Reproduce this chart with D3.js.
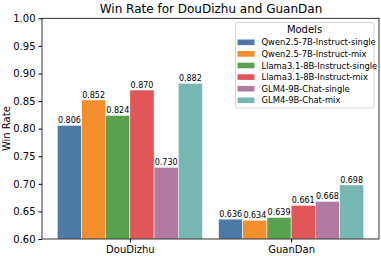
<!DOCTYPE html>
<html>
<head>
<script src="https://d3js.org/d3.v7.min.js"></script>
<style>
  body { margin: 0; background: #fff; }
  text { font-family: "DejaVu Sans", sans-serif; fill: #000; }
</style>
</head>
<body>
<svg width="381" height="256"></svg>
<script>
var games = ["DouDizhu", "GuanDan"];
var models = ["Qwen2.5-7B-Instruct-single", "Qwen2.5-7B-Instruct-mix",
  "Llama3.1-8B-Instruct-single", "Llama3.1-8B-Instruct-mix",
  "GLM4-9B-Chat-single", "GLM4-9B-Chat-mix"];
var douDizhu = [0.806, 0.852, 0.824, 0.870, 0.730, 0.882];
var guanDan = [0.636, 0.634, 0.639, 0.661, 0.668, 0.698];
var yTicks = [0.60, 0.65, 0.70, 0.75, 0.80, 0.85, 0.90, 0.95, 1.00];
var colors = ["#4e79a7", "#f28e2b", "#59a14f", "#e15759", "#b07aa1", "#76b7b2"];

var values = [douDizhu, guanDan];
var svg = d3.select("svg");
var plotLeft = 42, plotRight = 379, plotTop = 18.3, plotBottom = 239;
var barW = 0.15;

var x = d3.scaleLinear().domain([-0.545, 1.545]).range([plotLeft, plotRight]);
var y = d3.scaleLinear().domain([0.6, 1.0]).range([plotBottom, plotTop]);

// bars
games.forEach(function(g, gi) {
  var grp = svg.append("g");
  grp.selectAll("rect")
    .data(values[gi])
    .enter()
    .append("rect")
    .attr("x", function(d, i) { return x(gi + (i - 2.5) * barW - barW / 2); })
    .attr("width", x(barW) - x(0))
    .attr("y", function(d) { return y(d); })
    .attr("height", function(d) { return y(0.6) - y(d); })
    .attr("fill", function(d, i) { return colors[i]; })
    .attr("stroke", "#fff")
    .attr("stroke-width", 0.5);
  grp.selectAll("text")
    .data(values[gi])
    .enter()
    .append("text")
    .attr("x", function(d, i) { return x(gi + (i - 2.5) * barW); })
    .attr("y", function(d) { return y(d) - 2; })
    .attr("text-anchor", "middle")
    .attr("font-size", "8px")
    .text(function(d) { return d.toFixed(3); });
});

// axes
var yAxis = d3.axisLeft(y).tickValues(yTicks).tickFormat(d3.format(".2f")).tickSize(3.5).tickPadding(3);
var gy = svg.append("g").attr("transform", "translate(" + plotLeft + ",0)").call(yAxis);
gy.selectAll("text").attr("font-size", "10px").attr("font-family", "DejaVu Sans");
gy.select(".domain").remove();

var xAxis = d3.axisBottom(x).tickValues([0, 1]).tickFormat(function(d) { return games[d]; }).tickSize(3.5).tickPadding(3);
var gx = svg.append("g").attr("transform", "translate(0," + plotBottom + ")").call(xAxis);
gx.selectAll("text").attr("font-size", "10px").attr("font-family", "DejaVu Sans");
gx.select(".domain").remove();

svg.append("rect")
  .attr("x", plotLeft).attr("y", plotTop)
  .attr("width", plotRight - plotLeft).attr("height", plotBottom - plotTop)
  .attr("fill", "none").attr("stroke", "#000").attr("stroke-width", 0.8);

// labels
svg.append("text")
  .attr("x", (plotLeft + plotRight) / 2 + 0.5).attr("y", 12.5)
  .attr("text-anchor", "middle")
  .attr("font-size", "12px")
  .text("Win Rate for DouDizhu and GuanDan");

svg.append("text")
  .attr("transform", "translate(10," + ((plotTop + plotBottom) / 2) + ") rotate(-90)")
  .attr("text-anchor", "middle")
  .attr("font-size", "10px")
  .text("Win Rate");

// legend
var lg = svg.append("g").attr("transform", "translate(235.5,22.5)");
lg.append("rect")
  .attr("width", 138.5).attr("height", 85.5)
  .attr("rx", 2)
  .attr("fill", "#fff").attr("fill-opacity", 0.8)
  .attr("stroke", "#ccc").attr("stroke-width", 0.8);
lg.append("text")
  .attr("x", 69).attr("y", 10.5)
  .attr("text-anchor", "middle")
  .attr("font-size", "10px")
  .text("Models");
var items = lg.selectAll("g.item")
  .data(models)
  .enter()
  .append("g")
  .attr("transform", function(d, i) { return "translate(0," + (19.8 + i * 11.6) + ")"; });
items.append("rect")
  .attr("x", 2).attr("y", -2.8)
  .attr("width", 17).attr("height", 5.6)
  .attr("fill", function(d, i) { return colors[i]; });
items.append("text")
  .attr("x", 26).attr("y", 3)
  .attr("font-size", "8.4px")
  .text(function(d) { return d; });
</script>
</body>
</html>
